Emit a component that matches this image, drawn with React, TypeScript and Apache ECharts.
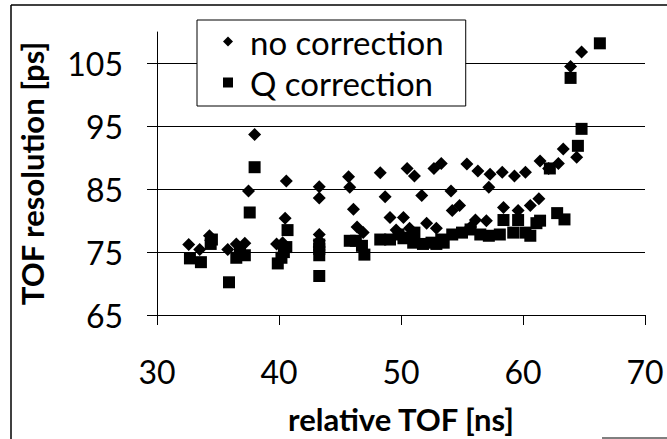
import React, { useEffect, useRef } from "react";
import * as echarts from "echarts";

const noCorrection: [number, number][] = [
  [32.6, 76.2], [33.5, 75.4], [34.3, 77.6], [34.4, 76.9], [35.8, 75.4], [36.5, 76.3],
  [37.2, 76.4], [37.5, 84.7], [38.0, 93.7], [39.8, 76.3], [40.3, 76.5], [40.5, 80.4],
  [40.6, 86.3], [43.3, 85.4], [43.3, 83.6], [43.3, 77.8], [43.3, 76.8], [43.3, 75.8],
  [45.7, 87.0], [45.8, 85.3], [46.1, 81.8], [46.4, 79.0], [46.9, 78.1], [48.3, 87.6],
  [48.7, 83.8], [49.1, 80.5], [49.6, 78.5], [50.2, 80.5], [50.5, 88.3], [50.7, 78.8],
  [51.1, 87.1], [51.7, 84.0], [52.1, 79.6], [52.7, 88.3], [52.9, 78.8], [53.3, 89.1],
  [54.1, 84.7], [54.2, 81.6], [54.8, 82.4], [55.4, 89.0], [55.7, 79.0], [56.1, 80.1],
  [56.3, 87.9], [57.0, 80.0], [57.2, 85.3], [57.3, 87.4], [58.3, 87.7], [58.4, 82.1],
  [59.3, 87.1], [59.6, 81.6], [60.2, 87.7], [60.6, 82.4], [61.3, 83.5], [61.4, 89.5],
  [62.1, 88.3], [62.9, 89.1], [63.3, 91.4], [63.9, 104.5], [64.4, 90.1], [64.8, 106.8],
];

const qCorrection: [number, number][] = [
  [32.7, 74.0], [33.6, 73.4], [34.4, 76.3], [34.5, 77.0], [35.9, 70.2], [36.5, 74.1],
  [36.8, 75.2], [37.2, 74.5], [37.6, 81.3], [38.0, 88.5], [39.9, 73.2], [40.2, 74.1],
  [40.4, 75.0], [40.6, 75.8], [40.7, 78.5], [43.3, 71.2], [43.3, 74.5], [43.3, 75.5],
  [43.3, 76.2], [45.8, 76.8], [46.3, 76.8], [46.8, 76.0], [47.0, 74.6], [48.3, 77.0],
  [49.1, 77.0], [49.8, 77.8], [50.2, 77.2], [50.7, 77.3], [51.0, 76.5], [51.1, 78.1],
  [51.8, 76.3], [52.5, 76.5], [52.9, 76.3], [53.3, 77.0], [53.5, 76.5], [54.2, 77.8],
  [55.0, 78.1], [55.7, 78.6], [56.5, 77.8], [57.2, 77.6], [58.1, 77.8], [58.4, 80.1],
  [59.2, 78.1], [59.6, 80.1], [60.2, 78.1], [60.6, 77.6], [61.1, 79.6], [61.4, 80.0],
  [62.2, 88.3], [62.8, 81.2], [63.4, 80.2], [63.9, 102.7], [64.5, 91.9], [64.8, 94.6],
  [66.3, 108.2],
];

const seriesNames = ["no correction", "Q correction"];
const yTickValues = [65, 75, 85, 95, 105];
const gridValues = [75, 85, 95, 105];

const FONT = "Lato, 'Open Sans', sans-serif";

export default function App() {
  const ref = useRef<HTMLDivElement>(null);
  useEffect(() => {
    if (!ref.current) return;
    const chart = echarts.init(ref.current, undefined, { renderer: "svg" });
    chart.setOption({
      animation: false,
      backgroundColor: "#fff",
      grid: { left: 157, right: 22, top: 32, bottom: 114, containLabel: false },
      legend: {
        data: [
          { name: seriesNames[0], icon: "diamond" },
          { name: seriesNames[1], icon: "rect" },
        ],
        orient: "vertical",
        left: 197,
        top: 20,
        padding: [2, 22, 4, 26],
        itemWidth: 10,
        itemHeight: 10,
        itemGap: 2,
        borderColor: "#000",
        borderWidth: 1,
        backgroundColor: "#fff",
        textStyle: {
          fontFamily: FONT,
          fontSize: 33,
          lineHeight: 39,
          color: "#000",
          padding: [0, 0, 0, 12],
        },
      },
      xAxis: {
        type: "value",
        min: 30,
        max: 70,
        interval: 10,
        name: "relative TOF [ns]",
        nameLocation: "middle",
        nameGap: 88,
        nameTextStyle: { fontFamily: FONT, fontSize: 31, fontWeight: "bold", color: "#000" },
        axisLine: { show: true, onZero: false, lineStyle: { color: "#000", width: 1 } },
        axisTick: { show: true, inside: false, length: 10, lineStyle: { color: "#000" } },
        axisLabel: { margin: 40, fontFamily: FONT, fontSize: 32, color: "#000" },
        splitLine: { show: false },
      },
      yAxis: {
        type: "value",
        min: 65,
        max: 110,
        interval: 5,
        name: "TOF resolution [ps]",
        nameLocation: "middle",
        nameGap: 110,
        nameTextStyle: { fontFamily: FONT, fontSize: 31, fontWeight: "bold", color: "#000" },
        axisLine: { show: true, onZero: false, lineStyle: { color: "#000", width: 1 } },
        axisTick: { show: true, inside: false, length: 10, customValues: yTickValues, lineStyle: { color: "#000" } },
        axisLabel: {
          margin: 34,
          fontFamily: FONT,
          fontSize: 32,
          color: "#000",
          customValues: yTickValues,
          formatter: (v: number) => (yTickValues.indexOf(v) >= 0 ? String(v) : ""),
        },
        splitLine: { show: false },
      },
      series: [
        {
          name: seriesNames[0],
          type: "scatter",
          symbol: "diamond",
          symbolSize: 13,
          itemStyle: { color: "#000", opacity: 1 },
          data: noCorrection,
          z: 3,
          markLine: {
            silent: true,
            symbol: ["none", "none"],
            label: { show: false },
            lineStyle: { color: "#000", type: "solid", width: 1, opacity: 1 },
            data: gridValues.map((v) => ({ yAxis: v })),
            z: 1,
          },
        },
        {
          name: seriesNames[1],
          type: "scatter",
          symbol: "rect",
          symbolSize: 12,
          itemStyle: { color: "#000", opacity: 1 },
          data: qCorrection,
          z: 4,
        },
      ],
      graphic: [
        { type: "line", shape: { x1: 11, y1: 5, x2: 11, y2: 439 }, style: { stroke: "#000", lineWidth: 1.5 } },
        { type: "line", shape: { x1: 11, y1: 5, x2: 667, y2: 5 }, style: { stroke: "#000", lineWidth: 1.5 } },
        { type: "line", shape: { x1: 602, y1: 438, x2: 667, y2: 438 }, style: { stroke: "#000", lineWidth: 1 } },
      ],
    });
    return () => chart.dispose();
  }, []);
  return <div ref={ref} style={{ width: 667, height: 439, position: "fixed", left: 0, top: 0 }} />;
}
